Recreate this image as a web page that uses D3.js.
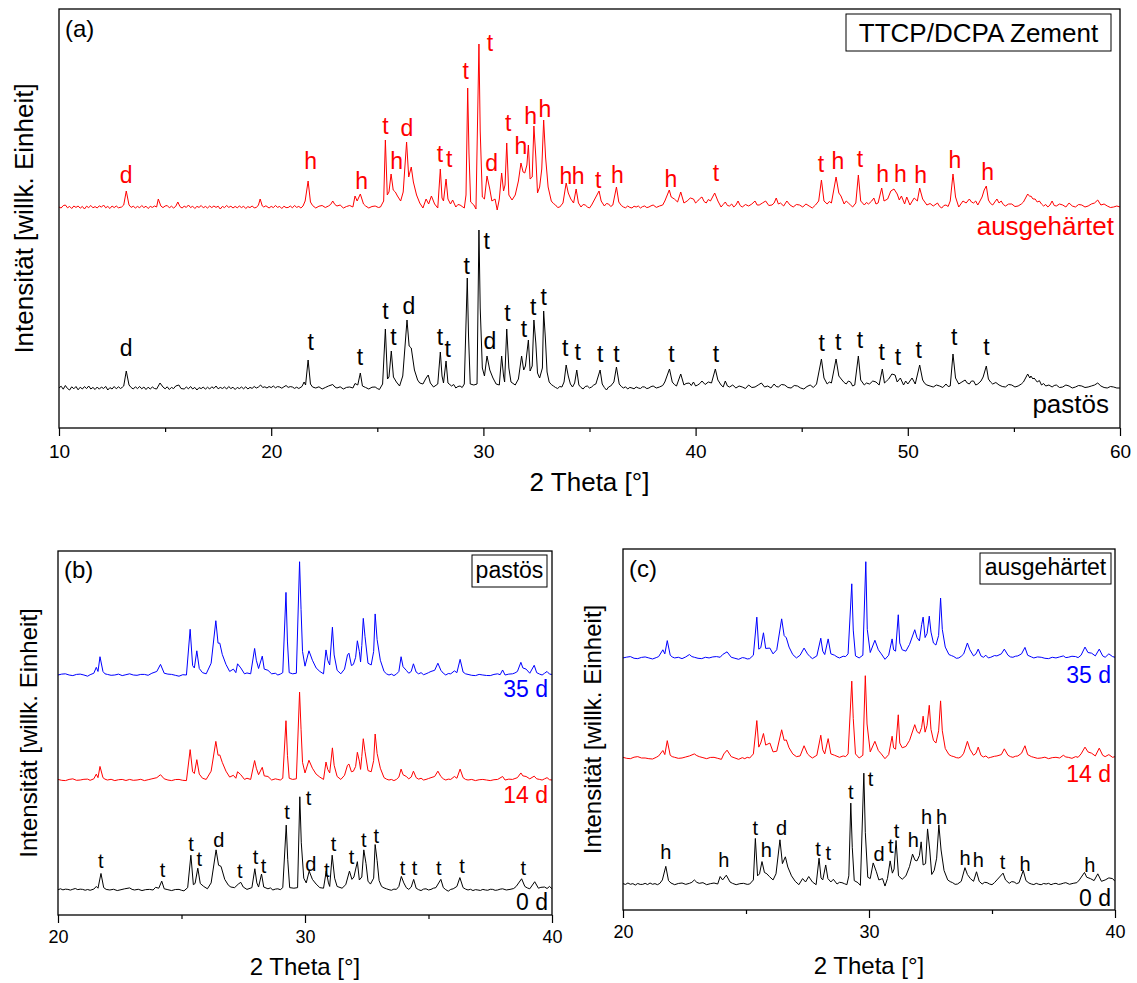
<!DOCTYPE html>
<html>
<head>
<meta charset="utf-8">
<script src="https://cdn.jsdelivr.net/npm/d3@7"></script>
<style>
  body { margin: 0; background: #fff; }
  svg text { font-family: "Liberation Sans", Arial, sans-serif; }
</style>
</head>
<body>
<svg id="chart" width="1137" height="983"></svg>
<script>
// ---- data: [2 theta, intensity (arb. counts, baseline ~ 0)] ----

// pastös, 0 d (black in a, 0 d in b)
const pastoes0 = [[10,0],[10.1,18],[10.2,-12],[10.3,25],[10.4,-5],[10.5,-20],[10.6,12],[10.7,-8],[10.8,15],[10.9,-18],[11.0,8],[11.1,-10],[11.2,14],[11.3,-6],[11.4,20],[11.5,-10],[11.6,6],[11.7,-15],[11.8,10],[11.9,-12],[12,10],[12.1,-6],[12.2,16],[12.3,-20],[12.4,4],[12.5,-10],[12.6,15],[12.7,-8],[12.8,12],[12.9,-5],[13.0,10],[13.05,20],[13.17,170],[13.3,30],[13.4,5],[13.5,-10],[13.6,12],[13.7,-6],[13.8,15],[13.9,-8],[14.0,10],[14.1,-15],[14.2,8],[14.3,-10],[14.4,10],[14.5,-5],[14.6,-10],[14.76,50],[14.9,10],[15.0,-8],[15.1,12],[15.2,-15],[15.3,6],[15.4,-6],[15.5,20],[15.65,30],[15.75,-5],[15.9,-10],[16.0,10],[16.1,-8],[16.2,15],[16.3,-10],[16.4,6],[16.5,-20],[16.6,4],[16.7,-6],[16.8,10],[16.9,-12],[17.0,8],[17.1,-10],[17.2,12],[17.3,-4],[17.4,20],[17.5,-8],[17.6,6],[17.7,-5],[17.8,10],[17.9,-10],[18,15],[18.1,-6],[18.2,8],[18.3,-15],[18.4,6],[18.5,-6],[18.6,10],[18.7,-8],[18.8,12],[18.9,-10],[19.0,6],[19.1,-4],[19.2,15],[19.3,0],[19.4,10],[19.5,30],[19.6,5],[19.7,12],[19.8,0],[19.9,15],[20.0,4],[20.1,20],[20.2,2],[20.3,14],[20.4,10],[20.5,-2],[20.6,12],[20.7,25],[20.8,6],[20.9,14],[21,10],[21.1,-4],[21.2,8],[21.3,-5],[21.45,15],[21.55,60],[21.62,30],[21.74,280],[21.85,40],[21.95,10],[22.1,0],[22.25,12],[22.4,-10],[22.55,5],[22.7,20],[22.9,35],[23.0,10],[23.1,0],[23.25,12],[23.4,-10],[23.55,6],[23.7,10],[23.85,0],[23.95,45],[24.08,30],[24.2,150],[24.3,20],[24.45,5],[24.6,-10],[24.75,8],[24.9,10],[25.0,-5],[25.1,-15],[25.25,40],[25.38,590],[25.48,90],[25.55,110],[25.66,370],[25.76,110],[25.9,60],[26.05,20],[26.2,120],[26.4,680],[26.5,420],[26.6,400],[26.75,180],[26.9,80],[27.0,50],[27.15,40],[27.3,100],[27.4,130],[27.5,50],[27.65,10],[27.85,40],[27.97,360],[28.05,120],[28.12,50],[28.24,270],[28.33,50],[28.5,20],[28.6,35],[28.7,0],[28.8,15],[28.9,20],[29.0,5],[29.1,40],[29.24,1100],[29.3,520],[29.38,40],[29.55,30],[29.7,40],[29.79,1580],[29.85,800],[29.95,200],[30.05,120],[30.17,320],[30.3,180],[30.45,100],[30.6,40],[30.75,30],[30.86,320],[30.95,120],[31.0,60],[31.1,590],[31.2,200],[31.3,60],[31.5,30],[31.65,90],[31.8,320],[31.9,180],[31.98,220],[32.12,480],[32.2,170],[32.3,220],[32.38,680],[32.47,450],[32.55,150],[32.65,100],[32.78,200],[32.84,770],[32.92,500],[33.0,160],[33.1,60],[33.2,35],[33.3,20],[33.4,5],[33.5,-5],[33.6,15],[33.7,10],[33.8,60],[33.9,230],[34.0,120],[34.1,40],[34.2,10],[34.3,50],[34.4,180],[34.5,30],[34.6,5],[34.7,-10],[34.8,15],[34.9,20],[35.0,0],[35.1,10],[35.2,30],[35.3,40],[35.5,180],[35.6,40],[35.7,5],[35.8,-20],[35.9,10],[36.0,20],[36.15,60],[36.27,210],[36.4,40],[36.5,15],[36.6,0],[36.7,12],[36.8,-10],[36.9,6],[37.0,0],[37.1,-8],[37.2,10],[37.3,0],[37.4,-5],[37.5,12],[37.6,10],[37.7,-6],[37.8,0],[37.9,14],[38.0,20],[38.15,0],[38.3,10],[38.45,25],[38.55,60],[38.77,190],[38.9,60],[39.0,35],[39.1,20],[39.3,140],[39.45,30],[39.55,45],[39.7,50],[39.8,25],[39.9,60],[40.0,20],[40.1,30],[40.2,45],[40.3,70],[40.45,35],[40.6,60],[40.75,50],[40.93,190],[41.05,80],[41.2,30],[41.3,10],[41.4,70],[41.5,20],[41.6,10],[41.75,30],[41.9,0],[42.05,20],[42.2,10],[42.35,-5],[42.5,30],[42.65,5],[42.8,10],[42.95,30],[43.1,50],[43.25,10],[43.4,20],[43.55,0],[43.7,40],[43.8,15],[43.9,10],[44.05,35],[44.2,30],[44.35,5],[44.5,0],[44.65,25],[44.8,20],[44.95,0],[45.1,-10],[45.25,15],[45.4,30],[45.55,5],[45.7,40],[45.93,290],[46.05,100],[46.2,40],[46.3,60],[46.4,50],[46.62,290],[46.75,120],[46.9,80],[47.0,55],[47.1,40],[47.2,70],[47.3,60],[47.4,20],[47.5,30],[47.67,320],[47.78,80],[47.95,30],[48.05,50],[48.2,40],[48.35,70],[48.5,60],[48.65,30],[48.8,190],[48.9,50],[49.0,70],[49.1,90],[49.25,140],[49.4,130],[49.5,60],[49.65,100],[49.8,30],[49.9,70],[50.0,40],[50.2,100],[50.35,40],[50.56,230],[50.7,80],[50.8,45],[50.9,30],[51.05,20],[51.2,10],[51.35,30],[51.5,20],[51.65,5],[51.8,40],[51.9,15],[52.0,20],[52.13,340],[52.25,100],[52.4,40],[52.55,60],[52.7,80],[52.8,50],[52.9,40],[53.0,70],[53.1,70],[53.2,30],[53.3,40],[53.45,70],[53.55,110],[53.7,220],[53.8,90],[53.9,60],[54.0,40],[54.15,55],[54.3,30],[54.45,15],[54.6,10],[54.75,35],[54.9,30],[55.05,10],[55.2,20],[55.35,40],[55.45,60],[55.65,140],[55.75,100],[55.8,120],[55.9,90],[55.95,100],[56.1,60],[56.2,75],[56.3,30],[56.4,45],[56.5,20],[56.65,30],[56.8,10],[56.9,25],[57.0,30],[57.15,5],[57.3,10],[57.45,30],[57.6,20],[57.75,0],[57.9,10],[58.05,25],[58.2,20],[58.35,5],[58.5,10],[58.65,20],[58.8,30],[58.95,50],[59.1,20],[59.25,5],[59.4,0],[59.55,15],[59.7,10],[59.85,0],[60,0]];

// ausgehärtet, 0 d (red in a, 0 d in c)
const haertet0 = [[10,0],[10.1,-10],[10.2,14],[10.3,20],[10.4,-8],[10.5,6],[10.6,-15],[10.7,10],[10.8,-4],[10.9,10],[11.0,-12],[11.1,6],[11.2,-20],[11.3,8],[11.4,-6],[11.5,15],[11.6,-8],[11.7,4],[11.8,-10],[11.9,12],[12.0,-2],[12.1,20],[12.2,-8],[12.3,6],[12.4,-15],[12.5,10],[12.6,-6],[12.7,10],[12.8,-8],[12.95,0],[13.05,20],[13.17,160],[13.3,20],[13.4,-4],[13.5,8],[13.6,-10],[13.7,6],[13.8,-8],[13.9,15],[14.0,-6],[14.1,8],[14.2,-15],[14.3,6],[14.4,-4],[14.5,10],[14.6,0],[14.68,80],[14.8,10],[14.9,-6],[15.0,10],[15.1,15],[15.2,-8],[15.3,8],[15.4,-10],[15.5,6],[15.6,50],[15.7,4],[15.8,-10],[15.9,8],[16.0,-4],[16.1,20],[16.2,-6],[16.3,8],[16.4,-15],[16.5,6],[16.6,-4],[16.7,15],[16.8,-8],[16.9,6],[17.0,-10],[17.1,10],[17.2,-6],[17.3,10],[17.4,-4],[17.5,8],[17.6,-20],[17.7,6],[17.8,-6],[17.9,15],[18.0,-4],[18.1,8],[18.2,-10],[18.3,6],[18.4,-8],[18.5,10],[18.6,-6],[18.7,8],[18.8,-15],[18.9,4],[19.0,-6],[19.1,10],[19.2,-8],[19.3,-5],[19.4,20],[19.48,80],[19.58,10],[19.65,0],[19.75,12],[19.9,-10],[20.0,6],[20.1,-6],[20.2,15],[20.3,-4],[20.4,6],[20.5,-15],[20.6,8],[20.7,-6],[20.8,-5],[20.9,10],[21.0,-8],[21.1,15],[21.2,-4],[21.3,6],[21.4,-10],[21.5,10],[21.6,60],[21.74,260],[21.85,50],[21.95,15],[22.1,-10],[22.25,8],[22.4,15],[22.55,-5],[22.7,10],[22.8,25],[22.9,60],[23.0,25],[23.1,10],[23.25,20],[23.4,-10],[23.55,5],[23.7,15],[23.85,0],[23.95,110],[24.05,60],[24.2,130],[24.35,30],[24.45,10],[24.6,-10],[24.75,5],[24.9,10],[25.05,-5],[25.15,0],[25.3,60],[25.38,670],[25.47,120],[25.55,150],[25.65,330],[25.75,170],[25.85,150],[25.95,110],[26.1,60],[26.22,150],[26.38,650],[26.48,300],[26.6,400],[26.7,250],[26.85,120],[27.0,40],[27.15,-10],[27.3,80],[27.42,30],[27.55,110],[27.7,30],[27.85,-10],[27.97,380],[28.05,90],[28.12,60],[28.24,280],[28.33,80],[28.45,30],[28.55,70],[28.7,0],[28.8,25],[28.9,20],[29.0,5],[29.1,-10],[29.18,120],[29.26,1190],[29.32,540],[29.4,50],[29.55,20],[29.65,-20],[29.79,1630],[29.85,760],[29.95,100],[30.05,80],[30.17,310],[30.3,180],[30.4,60],[30.55,80],[30.65,-30],[30.75,80],[30.86,340],[30.95,160],[31.02,220],[31.1,640],[31.2,120],[31.35,70],[31.5,120],[31.65,260],[31.77,440],[31.87,350],[31.95,340],[32.05,420],[32.12,620],[32.2,280],[32.3,300],[32.38,810],[32.47,500],[32.55,140],[32.65,200],[32.75,380],[32.84,870],[32.93,500],[33.05,200],[33.2,60],[33.3,35],[33.4,20],[33.5,-5],[33.6,0],[33.75,40],[33.9,240],[34.0,140],[34.12,80],[34.25,40],[34.37,180],[34.48,40],[34.6,0],[34.7,25],[34.8,20],[34.9,0],[35.0,-10],[35.1,20],[35.2,60],[35.45,160],[35.55,60],[35.7,10],[35.8,35],[35.9,30],[36.0,5],[36.1,20],[36.27,200],[36.38,50],[36.5,15],[36.6,0],[36.7,-8],[36.8,10],[36.9,-4],[37.0,-10],[37.1,8],[37.2,0],[37.3,10],[37.4,-10],[37.5,4],[37.6,10],[37.7,-6],[37.8,0],[37.9,12],[38.0,20],[38.15,-4],[38.3,10],[38.45,20],[38.55,60],[38.76,170],[38.85,100],[39.0,80],[39.15,50],[39.3,150],[39.45,40],[39.6,60],[39.75,90],[39.9,80],[40.0,40],[40.1,60],[40.2,85],[40.3,100],[40.4,55],[40.5,40],[40.6,75],[40.7,60],[40.9,140],[41.05,60],[41.2,0],[41.3,25],[41.4,50],[41.5,15],[41.6,10],[41.7,30],[41.8,0],[41.9,20],[42.0,60],[42.1,15],[42.2,0],[42.35,25],[42.5,10],[42.65,30],[42.8,60],[42.9,20],[43.0,20],[43.15,40],[43.3,60],[43.45,15],[43.6,20],[43.7,40],[43.8,90],[43.9,30],[44.0,40],[44.15,10],[44.3,60],[44.45,20],[44.6,0],[44.75,25],[44.9,20],[45.05,0],[45.2,30],[45.35,10],[45.5,-10],[45.65,20],[45.8,60],[45.93,270],[46.05,60],[46.2,30],[46.3,55],[46.4,40],[46.62,300],[46.75,140],[46.85,110],[47.0,30],[47.1,60],[47.2,40],[47.3,20],[47.4,0],[47.55,40],[47.67,320],[47.78,60],[47.95,20],[48.05,45],[48.15,30],[48.3,60],[48.4,90],[48.5,30],[48.6,40],[48.77,190],[48.88,60],[49.05,80],[49.2,160],[49.35,180],[49.5,130],[49.6,70],[49.7,110],[49.85,30],[49.95,100],[50.1,20],[50.3,90],[50.45,60],[50.56,190],[50.7,80],[50.8,50],[50.9,20],[51.05,35],[51.2,10],[51.4,40],[51.5,5],[51.6,-10],[51.7,15],[51.8,20],[51.9,5],[52.0,60],[52.13,330],[52.25,100],[52.4,0],[52.5,30],[52.6,60],[52.75,40],[52.9,80],[53.0,50],[53.1,40],[53.2,60],[53.3,20],[53.5,100],[53.6,170],[53.7,210],[53.8,70],[53.9,35],[54.0,20],[54.1,50],[54.2,80],[54.3,40],[54.4,60],[54.5,25],[54.6,10],[54.75,30],[54.9,30],[55.05,5],[55.2,10],[55.35,30],[55.45,50],[55.65,130],[55.75,105],[55.8,110],[55.9,80],[56.0,80],[56.1,50],[56.2,60],[56.3,30],[56.4,10],[56.5,25],[56.6,0],[56.7,20],[56.8,60],[56.9,15],[57.0,10],[57.15,30],[57.3,20],[57.45,0],[57.6,40],[57.75,10],[57.9,0],[58.05,25],[58.2,20],[58.35,0],[58.5,10],[58.65,30],[58.8,40],[58.95,70],[59.1,20],[59.25,30],[59.4,10],[59.55,-5],[59.7,0],[59.85,10],[60,0]];

// pastös 14 d and 35 d (panel b)
const pastoes14 = [[20,10],[20.15,-5],[20.3,-10],[20.45,10],[20.6,20],[20.75,-5],[20.9,0],[21.05,12],[21.2,15],[21.3,-5],[21.45,20],[21.55,100],[21.62,40],[21.7,230],[21.82,40],[21.9,15],[22.0,0],[22.15,12],[22.3,-10],[22.45,5],[22.6,10],[22.75,-8],[22.9,10],[23.05,-5],[23.2,0],[23.35,12],[23.5,-10],[23.65,5],[23.8,20],[24.0,40],[24.15,90],[24.3,20],[24.45,0],[24.6,-10],[24.75,8],[24.9,10],[25.05,-5],[25.2,-10],[25.35,515],[25.45,140],[25.52,110],[25.62,345],[25.72,100],[25.85,30],[26.0,10],[26.2,150],[26.39,655],[26.48,420],[26.55,425],[26.65,300],[26.8,150],[26.95,50],[27.1,80],[27.2,30],[27.27,140],[27.4,90],[27.55,10],[27.65,30],[27.8,10],[27.96,330],[28.03,200],[28.12,90],[28.27,215],[28.35,70],[28.5,60],[28.65,0],[28.8,20],[28.9,10],[29.0,0],[29.1,30],[29.23,1005],[29.29,420],[29.36,30],[29.5,10],[29.65,20],[29.78,1490],[29.84,860],[29.9,300],[30.0,120],[30.16,335],[30.3,200],[30.45,100],[30.6,50],[30.75,10],[30.85,305],[30.92,180],[31.0,120],[31.11,545],[31.18,250],[31.3,60],[31.45,10],[31.6,80],[31.72,250],[31.78,270],[31.88,140],[31.96,150],[32.05,230],[32.12,470],[32.2,320],[32.25,180],[32.3,400],[32.36,700],[32.43,480],[32.55,160],[32.68,140],[32.78,330],[32.84,780],[32.92,450],[33.05,200],[33.2,40],[33.3,15],[33.4,0],[33.5,10],[33.6,-10],[33.7,10],[33.8,50],[33.89,185],[33.97,90],[34.1,60],[34.2,20],[34.3,50],[34.39,150],[34.5,40],[34.6,15],[34.7,30],[34.8,0],[34.9,10],[35.0,25],[35.1,40],[35.25,60],[35.38,150],[35.5,60],[35.6,20],[35.7,0],[35.8,15],[35.9,10],[36.05,60],[36.15,30],[36.28,185],[36.4,40],[36.5,10],[36.6,0],[36.75,10],[36.9,-10],[37.05,5],[37.2,10],[37.35,0],[37.5,-10],[37.65,5],[37.8,10],[38.0,60],[38.1,0],[38.25,15],[38.4,10],[38.5,25],[38.6,40],[38.74,120],[38.82,70],[38.95,60],[39.1,20],[39.28,65],[39.38,20],[39.5,10],[39.6,0],[39.7,20],[39.8,40],[39.9,5],[40,0]];

const pastoes35 = [[20,0],[20.15,15],[20.3,20],[20.45,0],[20.6,-10],[20.75,10],[20.9,15],[21.05,0],[21.2,-20],[21.3,5],[21.45,30],[21.55,130],[21.62,60],[21.7,310],[21.82,60],[21.9,20],[22.0,10],[22.15,-5],[22.3,0],[22.45,15],[22.6,-10],[22.75,5],[22.9,20],[23.05,0],[23.2,-5],[23.35,10],[23.5,10],[23.65,-5],[23.8,30],[24.0,60],[24.15,180],[24.3,30],[24.45,15],[24.6,10],[24.75,-5],[24.9,-20],[25.05,5],[25.2,0],[25.35,775],[25.45,160],[25.52,120],[25.62,410],[25.72,110],[25.85,40],[26.0,20],[26.2,200],[26.39,920],[26.48,540],[26.55,540],[26.65,350],[26.8,180],[26.95,60],[27.1,100],[27.2,40],[27.27,190],[27.4,120],[27.55,20],[27.65,35],[27.8,20],[27.96,450],[28.03,250],[28.12,110],[28.27,320],[28.35,100],[28.5,80],[28.65,20],[28.8,30],[28.9,0],[29.0,15],[29.1,40],[29.23,1400],[29.29,560],[29.36,40],[29.5,20],[29.65,30],[29.78,1920],[29.84,1110],[29.9,400],[30.0,150],[30.16,410],[30.3,250],[30.45,120],[30.6,60],[30.75,20],[30.85,425],[30.92,250],[31.0,170],[31.11,810],[31.18,340],[31.3,80],[31.45,20],[31.6,100],[31.72,340],[31.78,370],[31.88,160],[31.96,180],[32.05,300],[32.12,580],[32.2,400],[32.25,220],[32.3,500],[32.36,960],[32.43,650],[32.55,200],[32.68,170],[32.78,400],[32.84,1035],[32.92,600],[33.05,250],[33.2,60],[33.3,20],[33.4,0],[33.5,15],[33.6,-10],[33.7,15],[33.8,60],[33.89,310],[33.97,140],[34.1,80],[34.2,30],[34.3,60],[34.39,190],[34.5,50],[34.6,20],[34.7,40],[34.8,5],[34.9,20],[35.0,40],[35.1,60],[35.25,80],[35.38,200],[35.5,80],[35.6,30],[35.7,0],[35.8,25],[35.9,20],[36.05,70],[36.15,40],[36.28,265],[36.4,50],[36.5,20],[36.6,10],[36.75,-5],[36.9,-10],[37.05,10],[37.2,0],[37.35,-8],[37.5,-10],[37.65,10],[37.8,20],[37.9,5],[38.0,85],[38.1,0],[38.25,15],[38.4,20],[38.5,35],[38.6,60],[38.74,215],[38.82,120],[38.95,100],[39.1,30],[39.28,165],[39.38,40],[39.5,15],[39.6,0],[39.7,30],[39.8,60],[39.9,15],[40,10]];

// ausgehärtet 14 d and 35 d (panel c)
const haertet14 = [[20,10],[20.15,-5],[20.3,-10],[20.45,12],[20.6,20],[20.75,0],[20.9,0],[21.05,-10],[21.2,-15],[21.35,10],[21.45,30],[21.62,110],[21.7,50],[21.8,255],[21.92,40],[22.0,20],[22.1,10],[22.25,-5],[22.4,0],[22.55,15],[22.7,30],[22.9,60],[23.0,35],[23.1,20],[23.25,5],[23.4,-10],[23.55,8],[23.7,10],[23.85,-5],[24.0,-20],[24.1,60],[24.23,115],[24.4,20],[24.55,0],[24.7,-20],[24.85,5],[24.95,-10],[25.05,10],[25.15,0],[25.3,60],[25.44,550],[25.52,160],[25.6,220],[25.71,360],[25.8,190],[25.97,220],[26.1,90],[26.25,100],[26.45,415],[26.55,260],[26.64,265],[26.75,150],[26.9,60],[27.05,20],[27.2,30],[27.36,180],[27.5,60],[27.6,25],[27.7,0],[27.88,40],[28.04,335],[28.12,120],[28.2,60],[28.34,285],[28.45,60],[28.6,40],[28.7,25],[28.8,10],[28.95,30],[29.05,20],[29.15,60],[29.3,1130],[29.36,580],[29.45,60],[29.6,0],[29.75,40],[29.85,1210],[29.92,500],[30.05,90],[30.24,245],[30.38,110],[30.5,60],[30.65,-10],[30.8,50],[30.94,320],[31.0,150],[31.08,130],[31.19,635],[31.25,220],[31.35,150],[31.5,170],[31.65,260],[31.86,490],[31.95,390],[32.05,360],[32.14,450],[32.2,615],[32.28,380],[32.36,480],[32.45,775],[32.52,420],[32.62,260],[32.72,220],[32.83,400],[32.91,840],[32.98,400],[33.1,140],[33.25,50],[33.35,30],[33.45,20],[33.55,5],[33.65,0],[33.75,20],[33.85,70],[34.0,245],[34.1,130],[34.25,40],[34.35,70],[34.44,160],[34.55,40],[34.65,15],[34.75,30],[34.85,0],[34.95,10],[35.1,25],[35.2,30],[35.38,50],[35.5,135],[35.65,40],[35.75,20],[35.85,10],[35.95,25],[36.05,30],[36.2,70],[36.34,180],[36.45,50],[36.6,20],[36.7,10],[36.85,-5],[37.0,0],[37.15,12],[37.3,-10],[37.45,5],[37.6,10],[37.75,0],[37.9,40],[38.0,15],[38.1,10],[38.25,-5],[38.4,20],[38.5,10],[38.62,60],[38.78,160],[38.9,90],[39.05,70],[39.2,30],[39.36,145],[39.5,40],[39.6,20],[39.75,50],[39.9,10],[40,20]];

const haertet35 = [[20,0],[20.15,12],[20.3,20],[20.45,-5],[20.6,-10],[20.75,8],[20.9,15],[21.05,0],[21.2,-15],[21.35,5],[21.45,20],[21.62,120],[21.7,60],[21.8,255],[21.92,40],[22.0,15],[22.1,0],[22.25,10],[22.4,-10],[22.55,15],[22.7,50],[22.8,20],[22.9,10],[23.05,-5],[23.2,-10],[23.35,10],[23.5,0],[23.65,15],[23.8,20],[23.95,10],[24.05,50],[24.23,90],[24.4,10],[24.55,-5],[24.7,-20],[24.85,5],[24.95,0],[25.05,-15],[25.15,-10],[25.3,40],[25.44,600],[25.52,130],[25.6,150],[25.71,370],[25.8,140],[25.97,145],[26.1,60],[26.25,120],[26.45,575],[26.55,330],[26.64,295],[26.75,160],[26.9,50],[27.05,0],[27.2,40],[27.36,145],[27.5,60],[27.6,20],[27.7,-10],[27.88,30],[28.04,290],[28.12,100],[28.2,50],[28.34,280],[28.45,60],[28.6,40],[28.7,15],[28.8,0],[28.95,25],[29.05,20],[29.15,60],[29.3,1090],[29.36,410],[29.45,30],[29.6,0],[29.75,40],[29.87,1415],[29.93,420],[30.05,80],[30.24,260],[30.38,120],[30.5,60],[30.65,-20],[30.8,40],[30.94,280],[31.0,120],[31.08,100],[31.19,635],[31.25,220],[31.35,120],[31.5,100],[31.65,200],[31.86,415],[31.95,300],[32.05,250],[32.14,490],[32.2,600],[32.28,300],[32.36,360],[32.45,615],[32.52,380],[32.62,220],[32.72,190],[32.83,330],[32.91,880],[32.98,420],[33.1,160],[33.25,50],[33.35,35],[33.45,20],[33.55,-5],[33.65,0],[33.75,25],[33.85,60],[34.0,220],[34.1,120],[34.25,30],[34.35,60],[34.44,130],[34.55,30],[34.65,10],[34.75,40],[34.85,0],[34.95,10],[35.1,35],[35.2,30],[35.38,60],[35.5,130],[35.65,40],[35.75,15],[35.85,10],[35.95,25],[36.05,30],[36.2,60],[36.34,155],[36.45,40],[36.6,15],[36.7,0],[36.85,15],[37.0,10],[37.15,-5],[37.3,-10],[37.45,10],[37.6,0],[37.75,15],[37.9,30],[38.0,5],[38.1,10],[38.25,25],[38.4,20],[38.5,5],[38.62,40],[38.78,160],[38.9,80],[39.05,70],[39.2,30],[39.36,130],[39.5,30],[39.6,10],[39.75,60],[39.9,20],[40,10]];

// phase marks: [2 theta, letter, height of text baseline above curve baseline]
const marksPastoesA = [[13.17,'d',320],[21.86,'t',383],[24.18,'t',233],[25.38,'t',690],[25.76,'t',433],[26.49,'d',740],[27.95,'t',433],[28.32,'t',306],[29.21,'t',1143],[30.16,'t',1390],[30.31,'d',393],[31.13,'t',666],[31.91,'t',506],[32.35,'t',733],[32.84,'t',833],[33.86,'t',316],[34.44,'t',276],[35.5,'t',260],[36.27,'t',260],[38.86,'t',260],[40.96,'t',260],[45.94,'t',367],[46.72,'t',377],[47.75,'t',400],[48.77,'t',283],[49.54,'t',227],[50.51,'t',300],[52.19,'t',427],[53.71,'t',327]];
const marksHaertetA = [[13.17,'d',237],[21.86,'h',384],[24.26,'h',184],[25.38,'t',734],[25.91,'h',377],[26.40,'d',707],[27.95,'t',450],[28.39,'t',400],[29.17,'t',1284],[30.31,'t',1560],[30.39,'d',360],[31.17,'t',757],[31.77,'h',534],[32.23,'h',834],[32.9,'h',900],[33.89,'h',234],[34.47,'h',234],[35.41,'t',193],[36.32,'h',243],[38.84,'h',197],[40.96,'t',260],[45.91,'t',353],[46.7,'h',377],[47.75,'t',397],[48.82,'h',253],[49.65,'h',253],[50.6,'h',243],[52.22,'h',387],[53.76,'h',270]];
const marksPastoesB = [[21.73,'t',378],[24.23,'t',220],[25.39,'t',661],[25.72,'t',407],[26.51,'d',734],[27.36,'t',209],[28.0,'t',435],[28.32,'t',294],[29.27,'t',1198],[30.14,'t',1441],[30.24,'d',322],[30.88,'t',226],[31.16,'t',661],[31.88,'t',435],[32.38,'t',729],[32.89,'t',802],[33.95,'t',249],[34.43,'t',249],[35.42,'t',249],[36.36,'t',283],[38.84,'t',249]];
const marksHaertetC = [[21.74,'h',363],[24.1,'h',245],[25.38,'t',720],[25.83,'h',392],[26.45,'d',720],[27.93,'t',412],[28.34,'t',353],[29.26,'t',1245],[30.06,'t',1441],[30.41,'d',343],[30.89,'t',461],[31.12,'t',671],[31.8,'h',549],[32.34,'h',877],[32.95,'h',877],[33.9,'h',279],[34.44,'h',255],[35.43,'t',216],[36.34,'h',196],[38.98,'h',181]];

const majorTicksA = [10, 20, 30, 40, 50, 60];
const minorTicksA = [15, 25, 35, 45, 55];
const majorTicksBC = [20, 30, 40];
const minorTicksBC = [25, 35];

const yTitle = 'Intensität [willk. Einheit]';
const xTitle = '2 Theta [°]';

const svg = d3.select('#chart');

const drawPanel = p => {
    const x = d3.scaleLinear().domain(p.xDomain).range([p.left, p.right]);
    const y = d3.scaleLinear().domain(p.yDomain).range([p.bottom, p.top]);
    const g = svg.append('g');

    g.append('clipPath').attr('id', 'clip-' + p.id)
        .append('rect')
        .attr('x', p.left).attr('y', p.top)
        .attr('width', p.right - p.left).attr('height', p.bottom - p.top);

    p.curves.forEach(c => {
        const pts = c.data.filter(d => d[0] >= p.xDomain[0] - 0.5 && d[0] <= p.xDomain[1] + 0.5);
        const line = d3.line()
            .x(d => x(d[0]))
            .y(d => y(d[1] + c.offset));
        g.append('path')
            .datum(pts)
            .attr('clip-path', `url(#clip-${p.id})`)
            .attr('d', line)
            .attr('fill', 'none')
            .attr('stroke', c.color)
            .attr('stroke-width', 1)
            .attr('stroke-linejoin', 'round');

        if (c.marks) {
            g.selectAll(null)
                .data(c.marks)
                .enter()
                .append('text')
                .attr('x', d => x(d[0]))
                .attr('y', d => y(d[2] + c.offset))
                .attr('text-anchor', 'middle')
                .attr('font-size', p.markSize)
                .attr('fill', c.color)
                .text(d => d[1]);
        }

        g.append('text')
            .attr('x', c.nameX)
            .attr('y', c.nameY)
            .attr('text-anchor', 'end')
            .attr('font-size', p.textSize)
            .attr('fill', c.color)
            .text(c.name);
    });

    // minor ticks
    const minorG = g.append('g')
        .attr('transform', `translate(0,${p.bottom})`)
        .call(d3.axisBottom(x).tickValues(p.minor).tickSize(4).tickFormat(''));
    minorG.select('.domain').remove();

    const xAxisG = g.append('g')
        .attr('transform', `translate(0,${p.bottom})`)
        .call(d3.axisBottom(x).tickValues(p.major).tickSize(8).tickSizeOuter(0).tickPadding(p.tickPad));
    xAxisG.select('.domain').remove();
    xAxisG.selectAll('text')
        .attr('font-size', p.tickSize)
        .attr('font-family', '"Liberation Sans", Arial, sans-serif')
        .attr('fill', '#000');
    g.selectAll('.tick line').attr('stroke', '#000').attr('stroke-width', 1.2);

    g.append('rect')
        .attr('x', p.left).attr('y', p.top)
        .attr('width', p.right - p.left).attr('height', p.bottom - p.top)
        .attr('fill', 'none')
        .attr('stroke', '#000')
        .attr('stroke-width', 1.3);

    g.append('text')
        .attr('x', (p.left + p.right) / 2)
        .attr('y', p.xTitleY)
        .attr('text-anchor', 'middle')
        .attr('font-size', p.titleSize)
        .text(xTitle);

    g.append('text')
        .attr('transform', `translate(${p.yTitleX},${(p.top + p.bottom) / 2}) rotate(-90)`)
        .attr('text-anchor', 'middle')
        .attr('font-size', p.titleSize)
        .text(yTitle);

    g.append('text')
        .attr('x', p.left + 6)
        .attr('y', p.tagY)
        .attr('font-size', 24)
        .text(p.tag);

    const lg = p.legend;
    g.append('rect')
        .attr('x', lg.x).attr('y', lg.y)
        .attr('width', lg.w).attr('height', lg.h)
        .attr('fill', '#fff')
        .attr('stroke', '#000')
        .attr('stroke-width', 1);
    g.append('text')
        .attr('x', lg.x + lg.w / 2)
        .attr('y', lg.y + lg.h - 9)
        .attr('text-anchor', 'middle')
        .attr('font-size', lg.size)
        .text(lg.text);
};

drawPanel({
    id: 'a', left: 59, right: 1120, top: 9, bottom: 428,
    xDomain: [10, 60], yDomain: [-400, 3790],
    major: majorTicksA, minor: minorTicksA, tickSize: 19, tickPad: 9,
    titleSize: 26, textSize: 26, markSize: 23,
    xTitleY: 491, yTitleX: 33, tag: '(a)', tagY: 37,
    legend: { x: 846, y: 14, w: 265, h: 37, size: 26, text: 'TTCP/DCPA Zement' },
    curves: [
        { data: pastoes0, offset: 0, color: '#000', marks: marksPastoesA, name: 'pastös', nameX: 1109, nameY: 413 },
        { data: haertet0, offset: 1810, color: '#ff0000', marks: marksHaertetA, name: 'ausgehärtet', nameX: 1114, nameY: 235 }
    ]
});

drawPanel({
    id: 'b', left: 58, right: 552, top: 551, bottom: 915,
    xDomain: [20, 40], yDomain: [-424, 5746],
    major: majorTicksBC, minor: minorTicksBC, tickSize: 18, tickPad: 7,
    titleSize: 24, textSize: 23, markSize: 20,
    xTitleY: 975, yTitleX: 37, tag: '(b)', tagY: 578,
    legend: { x: 472, y: 555, w: 75, h: 32, size: 23, text: 'pastös' },
    curves: [
        { data: pastoes0, offset: 0, color: '#000', marks: marksPastoesB, name: '0 d', nameX: 548, nameY: 910 },
        { data: pastoes14, offset: 1864, color: '#ff0000', name: '14 d', nameX: 548, nameY: 803 },
        { data: pastoes35, offset: 3644, color: '#0000ff', name: '35 d', nameX: 548, nameY: 697 }
    ]
});

drawPanel({
    id: 'c', left: 623, right: 1115, top: 549, bottom: 910,
    xDomain: [20, 40], yDomain: [-382, 4926],
    major: majorTicksBC, minor: minorTicksBC, tickSize: 18, tickPad: 7,
    titleSize: 24, textSize: 23, markSize: 20,
    xTitleY: 974, yTitleX: 601, tag: '(c)', tagY: 577,
    legend: { x: 980, y: 553, w: 131, h: 31, size: 23, text: 'ausgehärtet' },
    curves: [
        { data: haertet0, offset: 0, color: '#000', marks: marksHaertetC, name: '0 d', nameX: 1111, nameY: 906 },
        { data: haertet14, offset: 1853, color: '#ff0000', name: '14 d', nameX: 1111, nameY: 782 },
        { data: haertet35, offset: 3324, color: '#0000ff', name: '35 d', nameX: 1111, nameY: 683 }
    ]
});
</script>
</body>
</html>
